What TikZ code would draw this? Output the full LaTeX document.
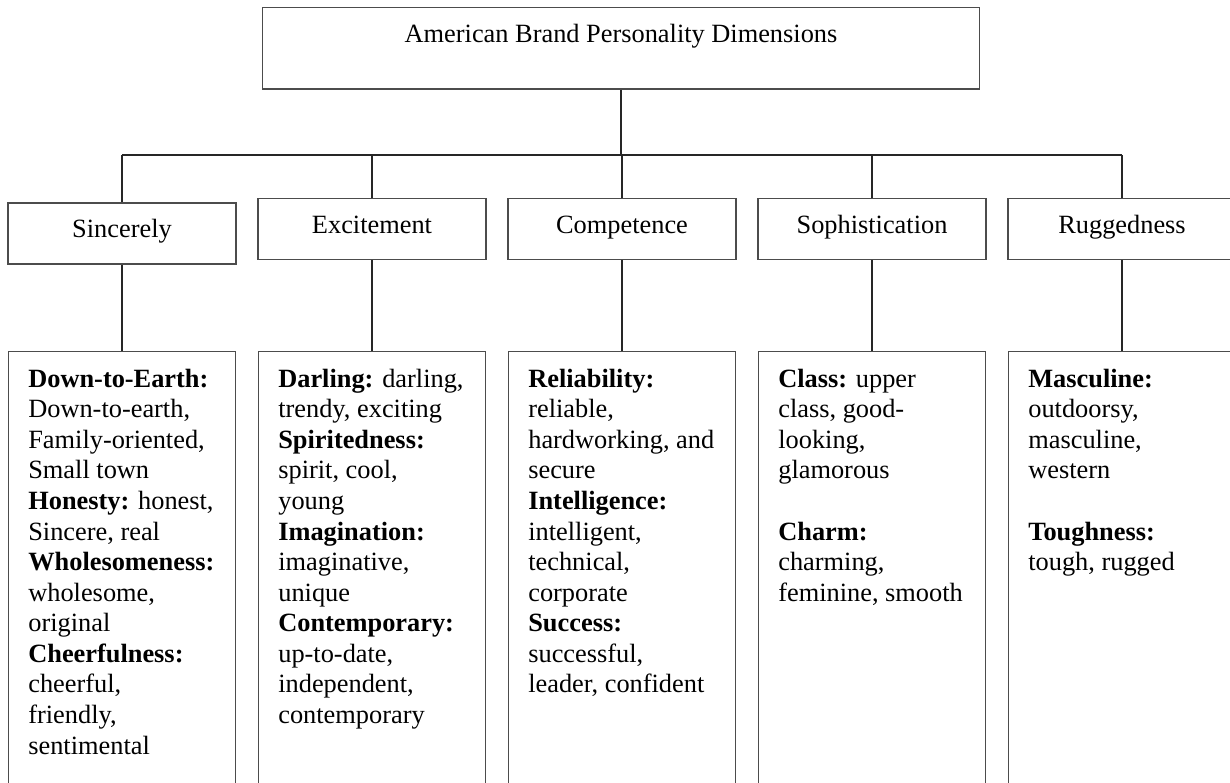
\documentclass[tikz,border=0pt]{standalone}
\usepackage{fontspec}
\setmainfont{Liberation Serif}
\usetikzlibrary{positioning,calc}

\tikzset{
  dimbox/.style={draw=black!70, line width=0.6pt, minimum width=4.56cm, minimum height=1.22cm,
                 inner sep=0pt, text height=0.36cm, text depth=0.2cm},
  facetbox/.style={draw=black!70, line width=0.6pt, minimum width=4.54cm, minimum height=9.4cm, inner sep=0pt, anchor=north},
  facettext/.style={align=left, inner sep=0pt},
  link/.style={draw=black!85, line width=0.6pt}
}

\begin{document}
\begin{tikzpicture}[font=\fontsize{15}{17.4}\selectfont]
  \useasboundingbox (0,0) rectangle (24.6,-15.64);
  \clip (0,0) rectangle (24.6,-15.64);

  % Top level
  \node[draw=black!70, line width=0.6pt, minimum width=14.34cm, inner sep=0pt,
        text height=0.69cm, text depth=0.94cm] (abpd) at (12.42,-0.965)
        {American Brand Personality Dimensions};

  % Dimensions
  \node[dimbox] (sinc) at (2.44,-4.67) {Sincerely};
  \node[dimbox] (exci) at (7.44,-4.58) {Excitement};
  \node[dimbox] (comp) at (12.44,-4.58) {Competence};
  \node[dimbox] (soph) at (17.44,-4.58) {Sophistication};
  \node[dimbox] (rugg) at (22.44,-4.58) {Ruggedness};

  % Facet boxes (run off the bottom)
  \foreach \n/\x in {sinc/2.44,exci/7.44,comp/12.44,soph/17.44,rugg/22.44}
    \node[facetbox] (\n-f) at (\x,-7.02) {};

  % Connectors
  \coordinate (bus) at (12.44,-3.1);
  \draw[link] (abpd.south) -- (abpd.south |- bus);
  \draw[link] (sinc.north |- bus) -- (rugg.north |- bus);
  \foreach \n in {sinc,exci,comp,soph,rugg} {
    \draw[link] (\n.north |- bus) -- (\n.north);
    \draw[link] (\n.south) -- (\n-f.north);
  }

  % Facets
  \node[facettext, below right=0.35cm and 0.4cm of sinc-f.north west] (sinc-t)
    {\textbf{Down-to-Earth:}\\Down-to-earth,\\Family-oriented,\\Small town\\
     \textbf{Honesty:} honest,\\Sincere, real\\\textbf{Wholesomeness:}\\wholesome,\\
     original\\\textbf{Cheerfulness:}\\cheerful,\\friendly,\\sentimental};
  \node[facettext, below right=0.35cm and 0.4cm of exci-f.north west] (exci-t)
    {\textbf{Darling:} darling,\\trendy, exciting\\\textbf{Spiritedness:}\\spirit, cool,\\
     young\\\textbf{Imagination:}\\imaginative,\\unique\\\textbf{Contemporary:}\\
     up-to-date,\\independent,\\contemporary};
  \node[facettext, below right=0.35cm and 0.4cm of comp-f.north west] (comp-t)
    {\textbf{Reliability:}\\reliable,\\hardworking, and\\secure\\\textbf{Intelligence:}\\
     intelligent,\\technical,\\corporate\\\textbf{Success:}\\successful,\\leader, confident};
  \node[facettext, below right=0.35cm and 0.4cm of soph-f.north west] (soph-t)
    {\textbf{Class:} upper\\class, good-\\looking,\\glamorous\\[17.4pt]
     \textbf{Charm:}\\charming,\\feminine, smooth};
  \node[facettext, below right=0.35cm and 0.4cm of rugg-f.north west] (rugg-t)
    {\textbf{Masculine:}\\outdoorsy,\\masculine,\\western\\[17.4pt]
     \textbf{Toughness:}\\tough, rugged};
\end{tikzpicture}
\end{document}
